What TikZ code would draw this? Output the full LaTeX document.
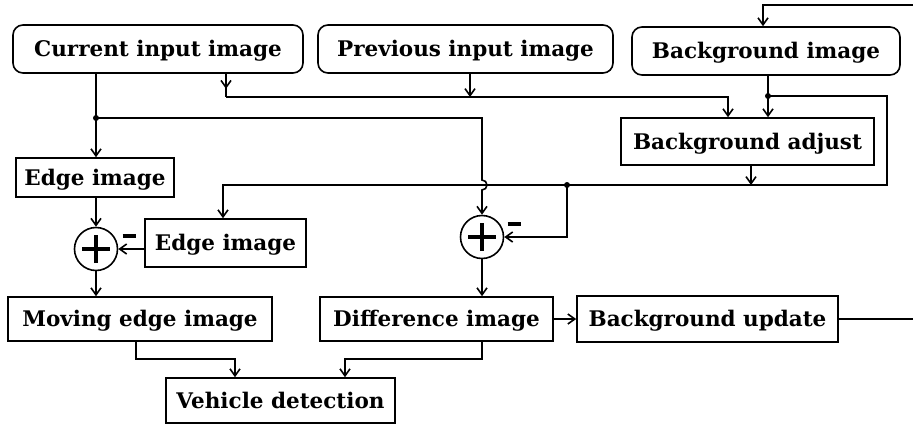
\documentclass[tikz,border=0pt]{standalone}
\usepackage{fontspec}
\setmainfont{DejaVu Serif}
\usetikzlibrary{arrows.meta}
\begin{document}
\begin{tikzpicture}[x=1pt,y=-1pt,
  lbl/.style={font=\fontsize{21.5}{24}\selectfont\bfseries, inner sep=0pt, text height=15pt, text depth=0pt},
  rbox/.style={draw, line width=1.6pt, rounded corners=10pt, lbl},
  sbox/.style={draw, line width=1.6pt, lbl},
  ln/.style={line width=1.6pt},
  arr/.style={ln, -{Straight Barb[length=7pt,width=10pt,line width=1.6pt]}},
  sumnode/.style={circle, draw, line width=1.6pt, minimum size=43pt, inner sep=0pt},
  plusbar/.style={line width=3.5pt},
  dot/.style={fill, circle, inner sep=0pt, minimum size=6pt},
  minusbar/.style={line width=3.5pt}
]
\useasboundingbox (0,0) rectangle (913,426);

% nodes
\node[rbox, minimum width=290pt, minimum height=48pt] (cur) at (158,49) {Current input image};
\node[rbox, minimum width=295pt, minimum height=48pt] (prev) at (465.5,49) {Previous input image};
\node[rbox, minimum width=268pt, minimum height=48pt] (bgi) at (766,51) {Background image};
\node[sbox, minimum width=253pt, minimum height=47pt] (bga) at (747.5,141.5) {Background adjust};
\node[sbox, minimum width=158pt, minimum height=39pt] (edge1) at (95,177.5) {Edge image};
\node[sbox, minimum width=161pt, minimum height=48pt] (edge2) at (225.5,243) {Edge image};
\node[sumnode] (sum1) at (96,249) {};
\node[sumnode] (sum2) at (482,237) {};
\node[sbox, minimum width=264pt, minimum height=44pt] (moving) at (140,319) {Moving edge image};
\node[sbox, minimum width=233pt, minimum height=44pt] (diff) at (436.5,319) {Difference image};
\node[sbox, minimum width=261pt, minimum height=46pt] (bgu) at (707.5,319) {Background update};
\node[sbox, minimum width=229pt, minimum height=45pt] (veh) at (280.5,400.5) {Vehicle detection};

% plus signs
\foreach \s in {sum1,sum2}{
  \draw[plusbar] ([xshift=-14pt]\s.center) -- ([xshift=14pt]\s.center);
  \draw[plusbar] ([yshift=-14pt]\s.center) -- ([yshift=14pt]\s.center);
}
% minus signs
\coordinate (m1) at (129,236);
\coordinate (m2) at (514,224);
\foreach \m in {m1,m2}{
  \draw[minusbar] ([xshift=-6.5pt]\m) -- ([xshift=6.5pt]\m);
}

% coordinates
\coordinate (j1) at (96,118);
\coordinate (h1) at (482,180);
\coordinate (c2) at (226,97);
\coordinate (c3) at (728,97);
\coordinate (p1) at (470,97);
\coordinate (b1) at (768,96);
\coordinate (b2) at (887,96);
\coordinate (b3) at (887,185);
\coordinate (b4) at (223,185);
\coordinate (a1) at (751,185);
\coordinate (d1) at (567,185);
\coordinate (out) at (913,319);
\coordinate (t1) at (913,5);
\coordinate (t2) at (763,5);
\coordinate (v1) at (136,359);
\coordinate (v2) at (235,359);
\coordinate (v3) at (482,359);
\coordinate (v4) at (345,359);

% connectors
\draw[arr] (cur.south -| j1) -- (edge1.north -| j1);
\node[dot] (dj1) at (j1) {};
\draw[arr] (j1) -- (j1 -| sum2) -- (h1) arc[start angle=90, end angle=-90, radius=5pt] -- (sum2.north);

\draw[arr] (cur.south -| c2) -- ++(0,15);
\draw[ln] (cur.south -| c2) -- (c2);
\draw[arr] (c2) -- (c3) -- (bga.north -| c3);
\draw[arr] (prev.south -| p1) -- (p1);

\draw[arr] (bgi.south -| b1) -- (bga.north -| b1);
\node[dot] (db1) at (b1) {};
\draw[arr] (b1) -- (b2) -- (b3) -- (b4) -- (edge2.north -| b4);
\draw[arr] (bga.south -| a1) -- (a1);
\node[dot] (dd1) at (d1) {};
\draw[arr] (d1) -- (d1 |- sum2) -- (sum2.east);

\draw[arr] (edge1.south -| sum1) -- (sum1.north);
\draw[arr] (edge2.west |- sum1) -- (sum1.east);
\draw[arr] (sum1.south) -- (moving.north -| sum1);
\draw[arr] (sum2.south) -- (diff.north -| sum2);
\draw[arr] (diff.east) -- (bgu.west);
\draw[ln] (bgu.east) -- (out);
\draw[arr] (t1) -- (t2) -- (bgi.north -| t2);

\draw[arr] (moving.south -| v1) -- (v1) -- (v2) -- (veh.north -| v2);
\draw[arr] (diff.south -| v3) -- (v3) -- (v4) -- (veh.north -| v4);
\end{tikzpicture}
\end{document}
